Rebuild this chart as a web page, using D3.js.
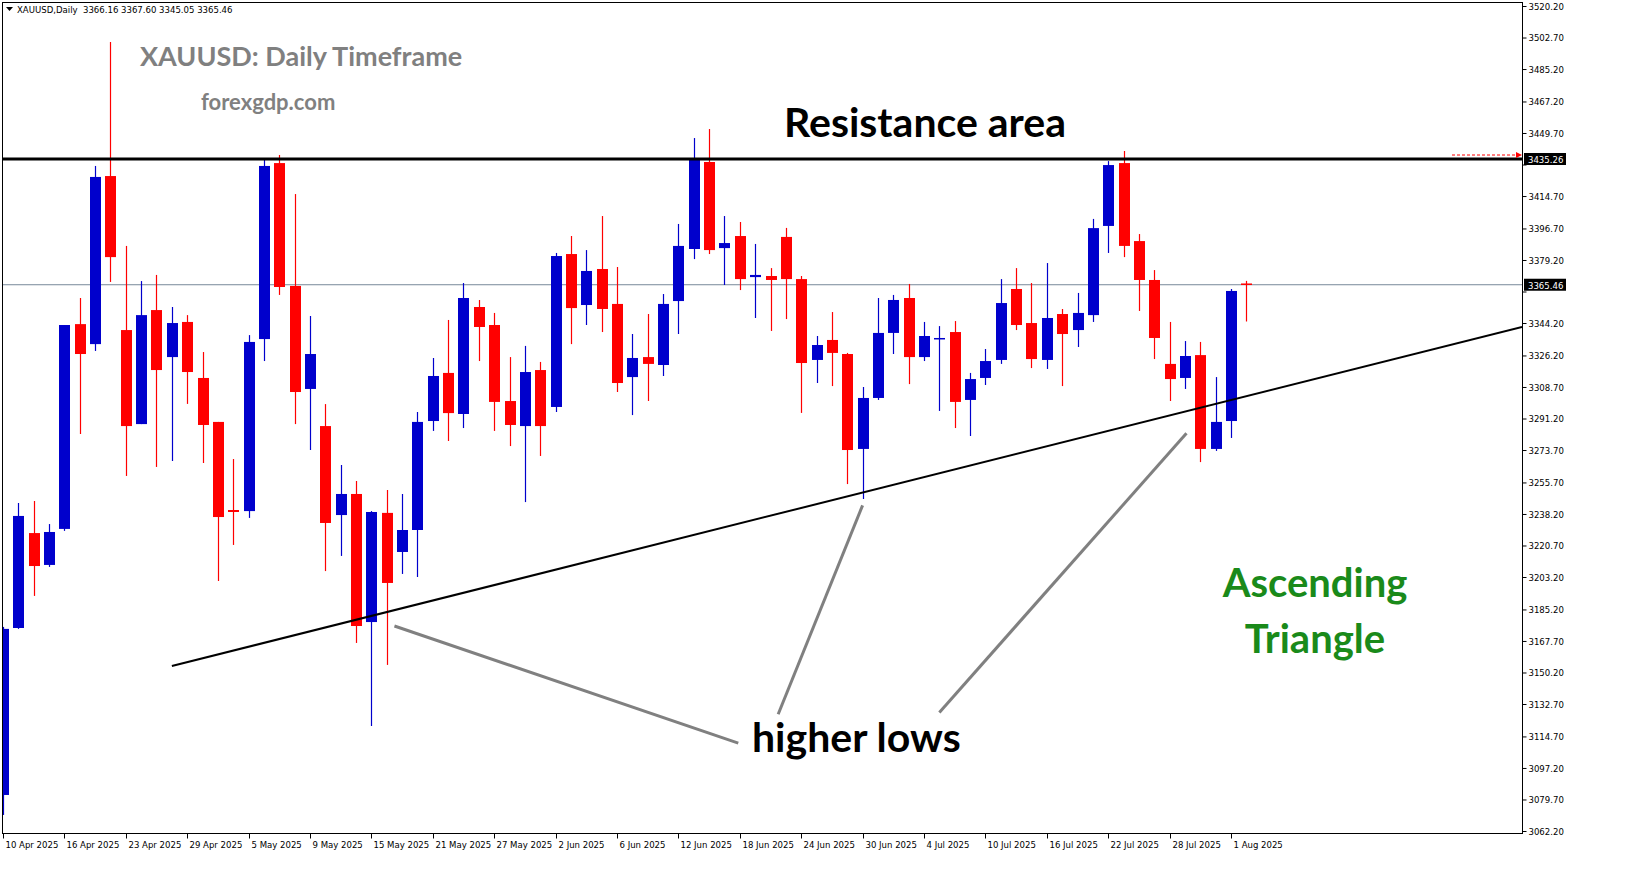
<!DOCTYPE html>
<html><head><meta charset="utf-8">
<script src="https://cdn.jsdelivr.net/npm/d3@7"></script>
<style>body{margin:0;background:#fff}svg{display:block}</style>
</head><body>
<svg id="chart" width="1631" height="888"></svg>
<script>
// daily candles, 10 Apr 2025 .. 4 Aug 2025
let opens  = [3082.2,3174.9,3227.6,3209.9,3229.9,3343.6,3332.5,3425.8,3340.3,3288.1,3351.4,3325.3,3344.8,3313.7,3289.3,3240.4,3239.8,3335.3,3433.0,3364.8,
  3307.6,3287.0,3237.6,3249.3,3178.2,3238.8,3217.1,3229.3,3289.8,3316.5,3293.7,3353.1,3343.1,3300.9,3287.0,3318.1,3297.6,3382.5,3354.2,3374.2,
  3354.8,3314.2,3325.3,3320.9,3356.4,3385.3,3433.6,3385.8,3392.5,3369.7,3370.3,3392.0,3368.6,3323.7,3334.8,3327.0,3274.3,3302.6,3338.7,3358.1,
  3325.3,3335.3,3339.2,3301.5,3313.7,3323.7,3363.1,3344.2,3323.7,3349.2,3340.3,3348.6,3398.1,3433.0,3389.7,3368.1,3321.5,3313.7,3326.4,3274.3,
  3289.8,3366.16];
let highs  = [3175.5,3244.3,3245.4,3232.6,3343.1,3358.1,3431.4,3500.2,3387.0,3367.5,3370.9,3353.1,3348.6,3328.1,3289.3,3268.7,3337.5,3435.2,3437.5,3415.8,
  3348.1,3299.2,3265.4,3256.5,3239.8,3251.5,3249.3,3294.8,3324.8,3345.9,3366.4,3357.0,3349.8,3325.3,3331.5,3322.6,3383.1,3392.5,3384.7,3403.6,
  3375.3,3338.1,3349.2,3360.3,3399.2,3446.9,3451.9,3403.6,3400.3,3388.1,3374.7,3397.0,3370.3,3337.0,3350.3,3327.6,3308.7,3358.1,3359.8,3365.9,
  3344.8,3342.5,3345.3,3316.5,3329.8,3368.6,3374.7,3366.4,3377.5,3352.0,3360.9,3402.0,3434.1,3439.7,3393.6,3373.6,3344.8,3334.2,3333.7,3314.2,
  3363.1,3367.60];
let lows   = [3071.1,3174.4,3192.7,3208.8,3228.8,3282.6,3328.7,3367.0,3259.3,3288.1,3264.3,3267.6,3299.3,3266.5,3201.0,3221.0,3236.0,3323.1,3359.8,3288.1,
  3273.7,3206.5,3214.9,3166.6,3120.5,3154.4,3204.9,3203.2,3284.3,3278.7,3285.9,3323.1,3284.3,3275.9,3244.8,3270.4,3294.8,3332.5,3343.1,3339.2,
  3305.9,3293.1,3300.9,3314.8,3338.1,3379.7,3382.5,3365.3,3362.5,3347.0,3339.8,3346.4,3294.3,3310.9,3309.2,3254.8,3246.5,3301.5,3327.0,3310.3,
  3323.1,3295.4,3285.9,3281.5,3309.8,3321.5,3340.3,3319.2,3318.7,3309.2,3330.9,3344.8,3383.1,3380.8,3350.9,3324.2,3300.9,3307.6,3267.0,3273.2,
  3280.4,3345.05];
let closes = [3174.4,3237.1,3209.3,3228.2,3343.1,3327.0,3425.3,3380.8,3287.0,3348.6,3318.1,3344.2,3317.0,3287.6,3236.5,3239.3,3333.7,3431.4,3364.2,3305.9,
  3327.0,3233.2,3249.3,3176.0,3239.3,3199.9,3229.3,3289.3,3314.8,3294.2,3358.1,3342.0,3300.4,3287.6,3317.0,3287.0,3381.4,3352.5,3373.1,3352.0,
  3310.9,3324.8,3321.5,3354.8,3387.0,3435.2,3384.7,3388.6,3368.6,3370.9,3368.1,3368.6,3322.0,3332.0,3327.6,3273.7,3302.6,3338.7,3357.0,3325.3,
  3337.0,3335.9,3300.4,3313.1,3323.1,3355.3,3343.1,3324.2,3347.0,3338.1,3349.8,3396.9,3431.9,3387.0,3368.1,3335.9,3313.1,3325.9,3274.3,3289.3,
  3362.0,3365.46];

let dateLabels = ['10 Apr 2025','16 Apr 2025','23 Apr 2025','29 Apr 2025','5 May 2025','9 May 2025','15 May 2025','21 May 2025','27 May 2025',
  '2 Jun 2025','6 Jun 2025','12 Jun 2025','18 Jun 2025','24 Jun 2025','30 Jun 2025','4 Jul 2025','10 Jul 2025','16 Jul 2025','22 Jul 2025',
  '28 Jul 2025','1 Aug 2025'];
let priceTicks = [3520.20,3502.70,3485.20,3467.20,3449.70,3432.20,3414.70,3396.70,3379.20,3361.70,3344.20,3326.20,3308.70,3291.20,
  3273.70,3255.70,3238.20,3220.70,3203.20,3185.20,3167.70,3150.20,3132.70,3114.70,3097.20,3079.70,3062.20];

let resistance = 3435.26;
let lastPrice = 3365.46;
let trendLine = [[11, 3153.8], [98.96, 3342.0]];
let pointers = [[[25.5, 3176.0], [47.9, 3111.0]], [[50.5, 3127.0], [56.0, 3243.0]], [[61.0, 3128.0], [77.1, 3283.0]]];

let svg = d3.select('#chart');
let pL = 2, pR = 1522, pT = 2, pB = 833;
let x = d3.scaleLinear().domain([0, 99]).range([3, 3 + 99 * 15.35]);
let y = d3.scaleLinear().domain([3062.2, 3520.2]).range([831, 6]);

svg.append('defs').append('clipPath').attr('id', 'plot')
  .append('rect').attr('x', pL).attr('y', pT).attr('width', pR - pL).attr('height', pB - pT);

let plot = svg.append('g').attr('clip-path', 'url(#plot)');

// last price line
plot.append('line').attr('x1', pL).attr('x2', pR).attr('y1', y(lastPrice)).attr('y2', y(lastPrice))
  .attr('stroke', '#778899').attr('stroke-width', 1);

// candles
let candles = d3.range(opens.length).map(i => ({i, o: opens[i], h: highs[i], l: lows[i], c: closes[i]}));
let g = plot.selectAll('g.c').data(candles).enter().append('g').attr('class', 'c');
g.append('line')
  .attr('x1', d => Math.round(x(d.i)) + 0.5).attr('x2', d => Math.round(x(d.i)) + 0.5)
  .attr('y1', d => y(d.h)).attr('y2', d => y(d.l))
  .attr('stroke', d => d.c >= d.o ? '#0000cc' : '#ff0000').attr('stroke-width', 1.2);
g.append('rect')
  .attr('x', d => Math.round(x(d.i)) - 5).attr('width', 11)
  .attr('y', d => y(Math.max(d.o, d.c)))
  .attr('height', d => Math.max(1.5, Math.abs(y(d.o) - y(d.c))))
  .attr('fill', d => d.c >= d.o ? '#0000cc' : '#ff0000');

// resistance & trend lines
plot.append('line').attr('x1', pL).attr('x2', pR).attr('y1', y(resistance)).attr('y2', y(resistance))
  .attr('stroke', '#000').attr('stroke-width', 3);
plot.append('line')
  .attr('x1', x(trendLine[0][0])).attr('y1', y(trendLine[0][1]))
  .attr('x2', x(trendLine[1][0])).attr('y2', y(trendLine[1][1]))
  .attr('stroke', '#000').attr('stroke-width', 2);
plot.selectAll('line.p').data(pointers).enter().append('line').attr('class', 'p')
  .attr('x1', d => x(d[0][0])).attr('y1', d => y(d[0][1]))
  .attr('x2', d => x(d[1][0])).attr('y2', d => y(d[1][1]))
  .attr('stroke', '#808080').attr('stroke-width', 3);

// red dashed arrow to price scale
plot.append('line').attr('x1', 1452).attr('x2', pR - 4).attr('y1', y(resistance) - 4).attr('y2', y(resistance) - 4)
  .attr('stroke', '#ff0000').attr('stroke-dasharray', '3,2');
plot.append('path').attr('d', `M${pR - 6},${y(resistance) - 7} L${pR},${y(resistance) - 4} L${pR - 6},${y(resistance) - 1}Z`).attr('fill', '#ff0000');

// frame
svg.append('rect').attr('x', pL + 0.5).attr('y', pT + 0.5).attr('width', pR - pL).attr('height', pB - pT)
  .attr('fill', 'none').attr('stroke', '#000');

// price axis (labels hidden under the price boxes are skipped)
let boxed = [resistance, lastPrice];
let yAxis = d3.axisRight(y).tickValues(priceTicks).tickSize(4)
  .tickFormat(d => boxed.some(b => Math.abs(y(b) - y(d)) < 10) ? '' : d.toFixed(2));
let ya = svg.append('g').attr('transform', `translate(${pR + 0.5},0)`).call(yAxis);
ya.select('.domain').remove();
ya.selectAll('text').attr('font-family', 'DejaVu Sans Condensed, DejaVu Sans').attr('font-size', 9.5).attr('fill', '#000').attr('x', 6);

// price boxes
boxed.forEach(p => {
  svg.append('rect').attr('x', pR + 2).attr('y', y(p) - 6).attr('width', 42).attr('height', 12).attr('fill', '#000');
  svg.append('text').attr('x', pR + 6).attr('y', y(p) + 4).text(p.toFixed(2))
    .attr('font-family', 'DejaVu Sans Condensed, DejaVu Sans').attr('font-size', 9.5).attr('fill', '#fff');
});

// date axis
let xa = svg.append('g').attr('transform', `translate(0,${pB + 0.5})`);
xa.selectAll('g').data(dateLabels).enter().append('g')
  .attr('transform', (d, i) => `translate(${Math.round(x(i * 4)) + 0.5},0)`)
  .each(function (d) {
    let t = d3.select(this);
    t.append('line').attr('y2', 5).attr('stroke', '#000');
    t.append('text').attr('x', 2).attr('y', 14).text(d)
      .attr('font-family', 'DejaVu Sans Condensed, DejaVu Sans').attr('font-size', 9.5);
  });

// header
svg.append('path').attr('d', 'M6,7 L13,7 L9.5,11Z').attr('fill', '#000');
svg.append('text').attr('x', 17).attr('y', 13).text('XAUUSD,Daily  3366.16 3367.60 3345.05 3365.46')
  .style('white-space', 'pre')
  .attr('font-family', 'DejaVu Sans Condensed, DejaVu Sans').attr('font-size', 9.5);

// annotations
let ann = [
  {t: 'XAUUSD: Daily Timeframe', x: 140, y: 66, s: 27, c: '#808080', a: 'start'},
  {t: 'forexgdp.com', x: 201, y: 110, s: 22, c: '#808080', a: 'start'},
  {t: 'Resistance area', x: 784, y: 137, s: 41, c: '#000', a: 'start'},
  {t: 'higher lows', x: 752, y: 752, s: 41, c: '#000', a: 'start'},
  {t: 'Ascending', x: 1315, y: 597, s: 40, c: '#1a8a1a', a: 'middle'},
  {t: 'Triangle', x: 1315, y: 653, s: 40, c: '#1a8a1a', a: 'middle'}
];
svg.selectAll('text.ann').data(ann).enter().append('text').attr('class', 'ann')
  .attr('x', d => d.x).attr('y', d => d.y).attr('text-anchor', d => d.a)
  .attr('font-family', 'Lato, Open Sans, sans-serif').attr('font-weight', 'bold')
  .attr('font-size', d => d.s).attr('fill', d => d.c).text(d => d.t);
</script>
</body></html>
